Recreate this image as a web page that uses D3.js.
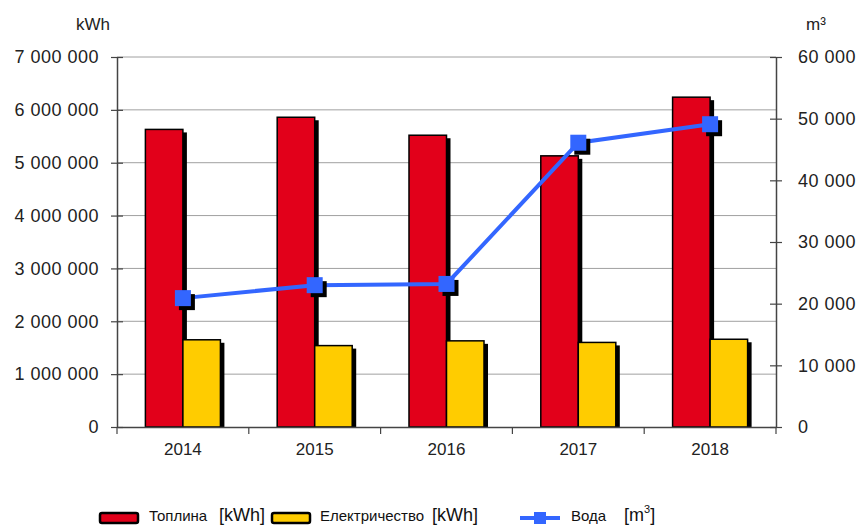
<!DOCTYPE html>
<html>
<head>
<meta charset="utf-8">
<script src="https://cdn.jsdelivr.net/npm/d3@7"></script>
<style>
  html, body { margin: 0; padding: 0; background: #fff; }
  svg { display: block; font-family: "Liberation Sans", Arial, sans-serif; }
</style>
</head>
<body>
<svg id="chart" width="862" height="526"></svg>
<script>
// Annual consumption: heat and electricity (kWh, left axis), water (m³, right axis)
const years = ["2014", "2015", "2016", "2017", "2018"];
const heatKWh = [5630000, 5860000, 5520000, 5130000, 6240000];
const electricityKWh = [1650000, 1540000, 1630000, 1600000, 1660000];
const waterM3 = [20900, 23000, 23200, 46100, 49100];
const leftTicks = [0, 1000000, 2000000, 3000000, 4000000, 5000000, 6000000, 7000000];
const rightTicks = [0, 10000, 20000, 30000, 40000, 50000, 60000];
const seriesNames = ["heat", "electricity"];
const seriesColors = { heat: "#e2001a", electricity: "#ffcc00" };
const waterColor = "#3366ff";
const font = "'Liberation Sans', Arial, sans-serif";

const svg = d3.select("#chart");
const plot = { left: 117, right: 776, top: 57, bottom: 427 };

const x = d3.scaleBand().domain(years).range([plot.left, plot.right]).padding(0);
const x1 = d3.scaleBand().domain(seriesNames).range([0, x.bandwidth()])
  .paddingInner(0).paddingOuter(0.757);
const yLeft = d3.scaleLinear().domain([0, 7000000]).range([plot.bottom, plot.top]);
const yRight = d3.scaleLinear().domain([0, 60000]).range([plot.bottom, plot.top]);

// Thousands grouped with a space
const fmt = v => d3.format(",")(v).replace(/,/g, " ");

// Horizontal gridlines
svg.append("g").selectAll("line").data(leftTicks.slice(1)).join("line")
  .attr("x1", plot.left).attr("x2", plot.right)
  .attr("y1", d => yLeft(d)).attr("y2", d => yLeft(d))
  .attr("stroke", "#a0a0a0").attr("stroke-width", 1);

// Left axis
const gL = svg.append("g").attr("transform", `translate(${plot.left},0)`)
  .call(d3.axisLeft(yLeft).tickValues(leftTicks).tickFormat(fmt).tickSizeInner(6).tickSizeOuter(0));
gL.attr("font-family", font);
gL.select(".domain").attr("stroke", "#444").attr("stroke-width", 1.5);
gL.selectAll(".tick line").attr("x2", 6).attr("x1", -6).attr("stroke", "#444").attr("stroke-width", 1.2);
gL.selectAll(".tick text").attr("x", -18).attr("font-size", 18)
  .attr("letter-spacing", 0.5).attr("fill", "#222");

// Right axis
const gR = svg.append("g").attr("transform", `translate(${plot.right},0)`)
  .call(d3.axisRight(yRight).tickValues(rightTicks).tickFormat(fmt).tickSizeInner(6).tickSizeOuter(0));
gR.attr("font-family", font);
gR.select(".domain").attr("stroke", "#444").attr("stroke-width", 1.5);
gR.selectAll(".tick line").attr("x1", -6).attr("x2", 6).attr("stroke", "#444").attr("stroke-width", 1.2);
gR.selectAll(".tick text").attr("x", 22).attr("font-size", 18)
  .attr("letter-spacing", 0.5).attr("fill", "#222");

// Bars with drop shadows
const rows = years.map((yr, i) => ({ year: yr, heat: heatKWh[i], electricity: electricityKWh[i] }));
const barData = rows.flatMap(r => seriesNames.map(s => ({ year: r.year, key: s, value: r[s] })));
const bars = svg.append("g");
bars.selectAll("rect.shadow").data(barData).join("rect").attr("class", "shadow")
  .attr("x", d => x(d.year) + x1(d.key) + 4)
  .attr("y", d => yLeft(d.value) + 3)
  .attr("width", x1.bandwidth())
  .attr("height", d => plot.bottom - yLeft(d.value) - 3)
  .attr("fill", "#000");
bars.selectAll("rect.bar").data(barData).join("rect").attr("class", "bar")
  .attr("x", d => x(d.year) + x1(d.key))
  .attr("y", d => yLeft(d.value))
  .attr("width", x1.bandwidth())
  .attr("height", d => plot.bottom - yLeft(d.value))
  .attr("fill", d => seriesColors[d.key])
  .attr("stroke", "#000").attr("stroke-width", 1.5);

// Bottom axis
const gB = svg.append("g").attr("transform", `translate(0,${plot.bottom})`)
  .call(d3.axisBottom(x).tickSize(0).tickSizeOuter(0));
gB.attr("font-family", font);
gB.select(".domain").attr("stroke", "#444").attr("stroke-width", 1.5);
gB.selectAll(".tick text").attr("font-size", 17).attr("fill", "#222").attr("dy", "1.45em");
const boundaries = years.map(y => x(y)).concat([plot.right]);
svg.append("g").selectAll("line").data(boundaries).join("line")
  .attr("x1", d => d).attr("x2", d => d)
  .attr("y1", plot.bottom).attr("y2", plot.bottom + 7)
  .attr("stroke", "#444").attr("stroke-width", 1.2);

// Water line with square markers
const cx = yr => x(yr) + x.bandwidth() / 2;
const waterPts = years.map((yr, i) => ({ year: yr, value: waterM3[i] }));
svg.append("path").datum(waterPts)
  .attr("fill", "none").attr("stroke", waterColor).attr("stroke-width", 4)
  .attr("d", d3.line().x(d => cx(d.year)).y(d => yRight(d.value)));
const ms = 16;
svg.append("g").selectAll("rect").data(waterPts).join("rect")
  .attr("x", d => cx(d.year) - ms / 2 + 4).attr("y", d => yRight(d.value) - ms / 2 + 4)
  .attr("width", ms).attr("height", ms).attr("fill", "#000");
svg.append("g").selectAll("rect").data(waterPts).join("rect")
  .attr("x", d => cx(d.year) - ms / 2).attr("y", d => yRight(d.value) - ms / 2)
  .attr("width", ms).attr("height", ms).attr("fill", waterColor);

// Axis unit titles
svg.append("text").attr("x", 93).attr("y", 30).attr("text-anchor", "middle")
  .attr("font-size", 17).attr("fill", "#222").text("kWh");
svg.append("text").attr("x", 816).attr("y", 30).attr("text-anchor", "middle")
  .attr("font-size", 17).attr("fill", "#222").text("m³");

// Legend
const legend = svg.append("g");
const ly = 521;
const swatch = (x0, color) => {
  legend.append("rect").attr("x", x0).attr("y", 513).attr("width", 38).attr("height", 10)
    .attr("rx", 2).attr("fill", color).attr("stroke", "#000").attr("stroke-width", 2.5);
};
swatch(100, seriesColors.heat);
swatch(272, seriesColors.electricity);
const t1 = legend.append("text").attr("x", 149).attr("y", ly).attr("font-size", 15).attr("fill", "#111");
t1.append("tspan").text("Топлина");
t1.append("tspan").attr("x", 219).attr("font-size", 18).text("[kWh]");
const t2 = legend.append("text").attr("x", 320).attr("y", ly).attr("font-size", 15).attr("fill", "#111");
t2.append("tspan").text("Електричество");
t2.append("tspan").attr("x", 432).attr("font-size", 18).text("[kWh]");
legend.append("line").attr("x1", 520).attr("x2", 560).attr("y1", 518).attr("y2", 518)
  .attr("stroke", waterColor).attr("stroke-width", 4);
legend.append("rect").attr("x", 534).attr("y", 512).attr("width", 12).attr("height", 12).attr("fill", waterColor);
const t3 = legend.append("text").attr("x", 571).attr("y", ly).attr("font-size", 15).attr("fill", "#111");
t3.append("tspan").text("Вода");
t3.append("tspan").attr("x", 624).attr("font-size", 18).text("[m");
t3.append("tspan").attr("font-size", 11).attr("dy", -8).text("3");
t3.append("tspan").attr("font-size", 18).attr("dy", 8).text("]");
</script>
</body>
</html>
